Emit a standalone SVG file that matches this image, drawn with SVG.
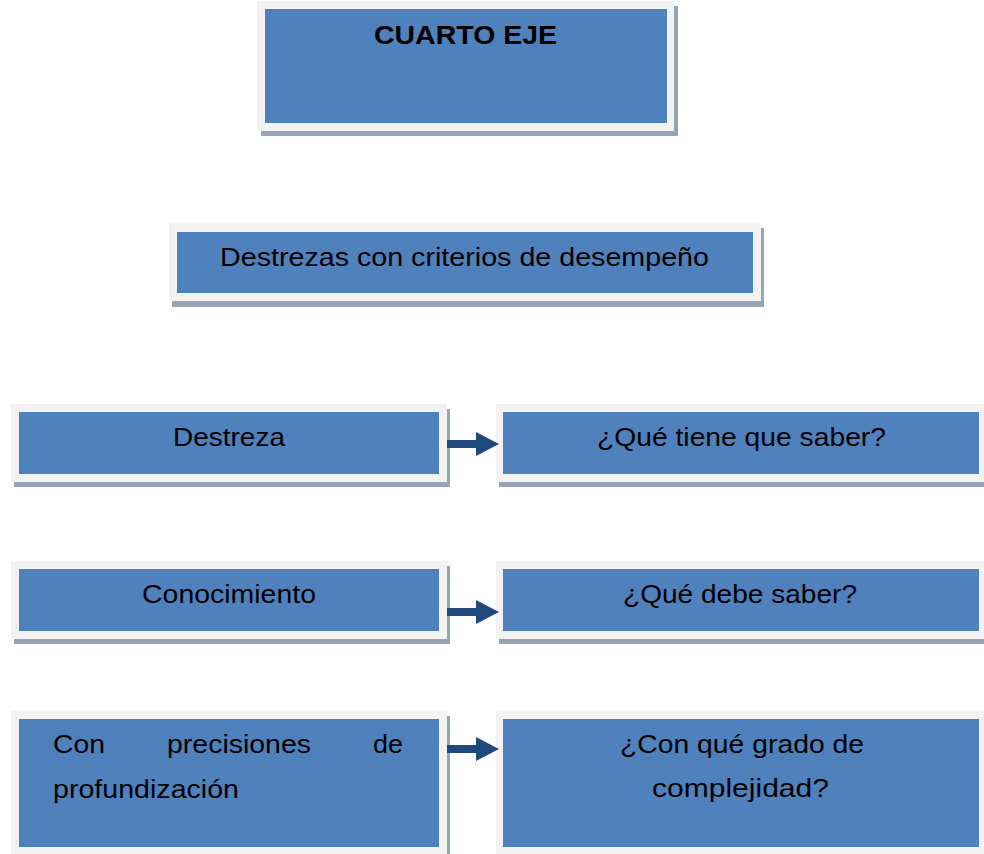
<svg xmlns="http://www.w3.org/2000/svg" width="984" height="854" viewBox="0 0 984 854">
<style>
.shadow{fill:#97a4b6}
.frame{fill:#f2f2f2}
.blue{fill:#4f81bd}
.t{font-family:"Liberation Sans",Arial,sans-serif;font-size:26px;fill:#000}
.b{font-weight:bold}
.arrow{fill:#1f497d}
</style>
<rect width="984" height="854" fill="#ffffff"/>
<g id="cuarto-eje">
<rect class="shadow" x="261" y="6" width="417" height="130"/>
<rect class="frame" x="257" y="1" width="417" height="130"/>
<rect class="blue" x="265" y="9" width="402" height="114"/>
<text class="t b" x="374" y="44" textLength="183" lengthAdjust="spacingAndGlyphs">CUARTO EJE</text>
</g>
<g id="destrezas-criterios">
<rect class="shadow" x="172" y="228" width="592" height="79"/>
<rect class="frame" x="169" y="223" width="592" height="78"/>
<rect class="blue" x="177" y="232" width="576" height="61"/>
<text class="t" x="220" y="266" textLength="489" lengthAdjust="spacingAndGlyphs">Destrezas con criterios de desempeño</text>
</g>
<g id="destreza">
<rect class="shadow" x="14" y="409" width="436" height="78"/>
<rect class="frame" x="11" y="404" width="436" height="78"/>
<rect class="blue" x="19" y="412" width="420" height="62"/>
<text class="t" x="173" y="446" textLength="112" lengthAdjust="spacingAndGlyphs">Destreza</text>
</g>
<g id="que-tiene-que-saber">
<rect class="shadow" x="499" y="409" width="492" height="78"/>
<rect class="frame" x="496" y="404" width="492" height="78"/>
<rect class="blue" x="503" y="412" width="476" height="62"/>
<text class="t" x="597" y="446" textLength="289" lengthAdjust="spacingAndGlyphs">¿Qué tiene que saber?</text>
</g>
<g id="conocimiento">
<rect class="shadow" x="14" y="566" width="436" height="78"/>
<rect class="frame" x="11" y="561" width="436" height="78"/>
<rect class="blue" x="19" y="569" width="420" height="62"/>
<text class="t" x="142" y="603" textLength="174" lengthAdjust="spacingAndGlyphs">Conocimiento</text>
</g>
<g id="que-debe-saber">
<rect class="shadow" x="499" y="566" width="492" height="78"/>
<rect class="frame" x="496" y="561" width="492" height="78"/>
<rect class="blue" x="503" y="569" width="476" height="62"/>
<text class="t" x="623" y="603" textLength="234" lengthAdjust="spacingAndGlyphs">¿Qué debe saber?</text>
</g>
<g id="con-precisiones">
<rect class="shadow" x="14" y="716" width="436" height="150"/>
<rect class="frame" x="11" y="711" width="436" height="150"/>
<rect class="blue" x="19" y="719" width="420" height="128"/>
<text class="t" x="53" y="753" textLength="52" lengthAdjust="spacingAndGlyphs">Con</text>
<text class="t" x="167" y="753" textLength="144" lengthAdjust="spacingAndGlyphs">precisiones</text>
<text class="t" x="373" y="753" textLength="30" lengthAdjust="spacingAndGlyphs">de</text>
<text class="t" x="53" y="798" textLength="186" lengthAdjust="spacingAndGlyphs">profundización</text>
</g>
<g id="grado-complejidad">
<rect class="shadow" x="499" y="716" width="492" height="150"/>
<rect class="frame" x="496" y="711" width="492" height="150"/>
<rect class="blue" x="503" y="719" width="476" height="128"/>
<text class="t" x="620" y="753" textLength="244" lengthAdjust="spacingAndGlyphs">¿Con qué grado de</text>
<text class="t" x="652" y="797" textLength="177" lengthAdjust="spacingAndGlyphs">complejidad?</text>
</g>
<g id="connectors">
<path class="arrow" d="M447,440 H476 V432 L499,444 L476,456 V448 H447 Z"/>
<path class="arrow" d="M447,608 H476 V600 L499,612 L476,624 V616 H447 Z"/>
<path class="arrow" d="M447,745 H476 V737 L499,749 L476,761 V753 H447 Z"/>
</g>
</svg>
